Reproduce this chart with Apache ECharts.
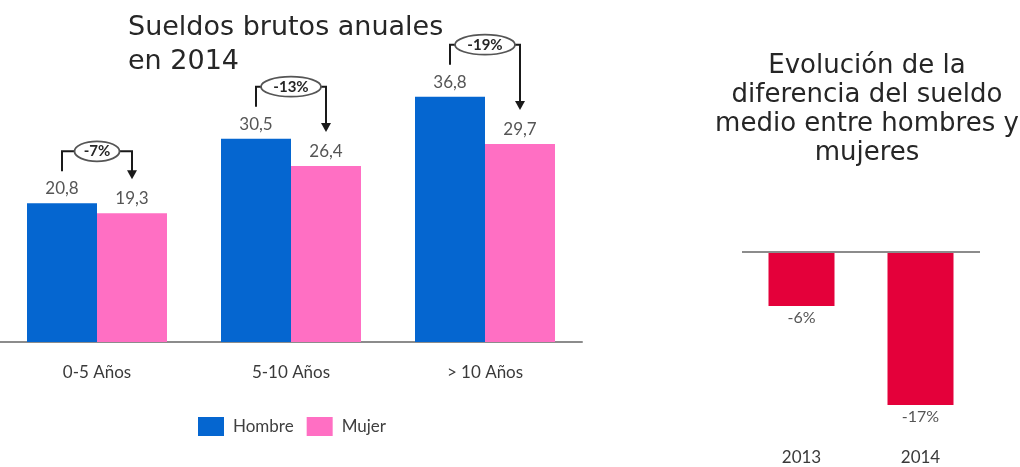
<!DOCTYPE html>
<html>
<head>
<meta charset="utf-8">
<script src="https://cdn.jsdelivr.net/npm/echarts@6/dist/echarts.min.js"></script>
<style>
html,body{margin:0;padding:0;background:#fff;}
#main{width:1020px;height:467px;}
</style>
</head>
<body>
<div id="main"></div>
<script>
// ---- data ----
const categories = ['0-5 Años', '5-10 Años', '> 10 Años'];
const hombre = [20.8, 30.5, 36.8];
const mujer = [19.3, 26.4, 29.7];
const diffLabels = ['-7%', '-13%', '-19%'];
const years = ['2013', '2014'];
const gapValues = [-6, -17];

// ---- style constants ----
const BAR_W = 70;
const LABEL_FONT = 'Lato, "Open Sans", sans-serif';
const TITLE_FONT = '"DejaVu Sans", "Liberation Sans", sans-serif';

const bracketData = categories.map((c, i) => [i, hombre[i], mujer[i]]);

const chart = echarts.init(document.getElementById('main'));
const fmtComma = p => String(p.value).replace('.', ',');

chart.setOption({
  animation: false,
  backgroundColor: '#ffffff',
  title: [
    {
      text: 'Sueldos brutos anuales\nen 2014',
      left: 123, top: 6,
      textStyle: { fontFamily: TITLE_FONT, fontSize: 27, fontWeight: 'normal', color: '#262626', lineHeight: 34 }
    },
    {
      text: 'Evolución de la\ndiferencia del sueldo\nmedio entre hombres y\nmujeres',
      left: 862, top: 47, textAlign: 'center',
      textStyle: { fontFamily: TITLE_FONT, fontSize: 26, fontWeight: 'normal', color: '#262626', lineHeight: 29, align: 'center' }
    }
  ],
  legend: {
    data: ['Hombre', 'Mujer'],
    left: 193, top: 412,
    icon: 'rect',
    itemWidth: 26, itemHeight: 19, itemGap: 13,
    textStyle: { fontFamily: LABEL_FONT, fontSize: 17, color: '#404040', padding: [0, 0, 0, 4] }
  },
  grid: [
    { left: 0, width: 582, top: 42, bottom: 125 },
    { left: 742, width: 238, top: 252, bottom: 35 }
  ],
  xAxis: [
    {
      type: 'category', gridIndex: 0, data: categories,
      axisLine: { show: true, onZero: false, lineStyle: { color: '#8c8c8c', width: 2 } },
      axisTick: { show: false },
      axisLabel: { margin: 22, fontFamily: LABEL_FONT, fontSize: 17, color: '#3a3a3a' }
    },
    {
      type: 'category', gridIndex: 1, data: years, position: 'bottom',
      axisLine: { show: false, onZero: false },
      axisTick: { show: false },
      axisLabel: { margin: 17, fontFamily: LABEL_FONT, fontSize: 17, color: '#3a3a3a' }
    }
  ],
  yAxis: [
    { type: 'value', gridIndex: 0, min: 0, max: 45, show: false, splitLine: { show: false } },
    { type: 'value', gridIndex: 1, min: -20, max: 0, show: false, splitLine: { show: false } }
  ],
  series: [
    {
      name: 'Hombre', type: 'bar', xAxisIndex: 0, yAxisIndex: 0,
      data: hombre, barWidth: BAR_W, barGap: '0%',
      itemStyle: { color: '#0566d0' },
      label: { show: true, position: 'top', distance: 6, formatter: fmtComma,
        fontFamily: LABEL_FONT, fontSize: 17, color: '#555555' }
    },
    {
      name: 'Mujer', type: 'bar', xAxisIndex: 0, yAxisIndex: 0,
      data: mujer, barWidth: BAR_W, barGap: '0%',
      itemStyle: { color: '#ff6fc3' },
      label: { show: true, position: 'top', distance: 6, formatter: fmtComma,
        fontFamily: LABEL_FONT, fontSize: 17, color: '#555555' }
    },
    {
      name: 'brackets', type: 'custom', xAxisIndex: 0, yAxisIndex: 0,
      data: bracketData, encode: { x: 0, y: 1 }, clip: false, silent: true, z: 5,
      renderItem: function (params, api) {
        const i = api.value(0);
        const pB = api.coord([i, api.value(1)]);
        const pM = api.coord([i, api.value(2)]);
        const xB = pB[0] - BAR_W / 2;
        const xM = pM[0] + BAR_W / 2;
        const yTop = pB[1] - 52;
        const yStart = pB[1] - 32;
        const yTip = pM[1] - 34;
        const xc = (xB + xM) / 2;
        const txt = diffLabels[params.dataIndex];
        const rx = 7.5 * txt.length;
        const ry = 10;
        const line = { stroke: '#1a1a1a', lineWidth: 2, fill: null };
        return {
          type: 'group',
          children: [
            { type: 'polyline', shape: { points: [[xB, yStart], [xB, yTop], [xc - rx, yTop]] }, style: line },
            { type: 'polyline', shape: { points: [[xc + rx, yTop], [xM, yTop], [xM, yTip - 8]] }, style: line },
            { type: 'polygon', shape: { points: [[xM - 5, yTip - 9], [xM + 5, yTip - 9], [xM, yTip]] }, style: { fill: '#1a1a1a' } },
            { type: 'ellipse', shape: { cx: xc, cy: yTop, rx: rx, ry: ry }, style: { fill: '#ffffff', stroke: '#555555', lineWidth: 1.8 } },
            { type: 'text', style: { text: txt, x: xc, y: yTop, align: 'center', verticalAlign: 'middle',
                font: 'bold 15px ' + LABEL_FONT, fill: '#262626' } }
          ]
        };
      }
    },
    {
      name: 'Diferencia', type: 'bar', xAxisIndex: 1, yAxisIndex: 1,
      data: gapValues, barWidth: 66,
      itemStyle: { color: '#e4003a' },
      label: { show: true, position: 'bottom', distance: 4, formatter: p => p.value + '%',
        fontFamily: LABEL_FONT, fontSize: 16, color: '#555555' },
      markLine: {
        silent: true, symbol: 'none', label: { show: false },
        lineStyle: { color: '#8c8c8c', width: 2, type: 'solid' },
        data: [{ yAxis: 0 }]
      }
    }
  ]
});
</script>
</body>
</html>
